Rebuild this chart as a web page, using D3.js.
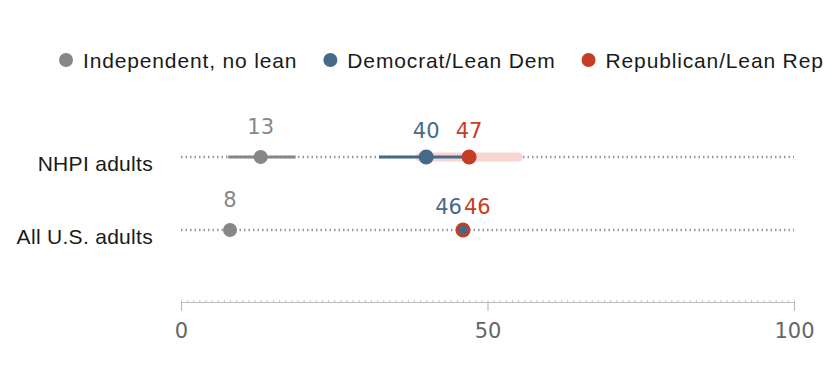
<!DOCTYPE html>
<html>
<head>
<meta charset="utf-8">
<script src="https://cdn.jsdelivr.net/npm/d3@7"></script>
<style>
  html, body { margin: 0; padding: 0; background: #fff; }
  svg { display: block; }
</style>
</head>
<body>
<div id="chart"></div>
<script>
// ---- data ----
const categories = ["NHPI adults", "All U.S. adults"];
const seriesNames = ["Independent, no lean", "Democrat/Lean Dem", "Republican/Lean Rep"];
const indep = [13, 8];
const indepLow = [7.7, null];
const indepHigh = [18.7, null];
const dem = [40, 46];
const demLow = [32.3, null];
const demHigh = [47.7, null];
const rep = [47, 46];
const repLow = [39, null];
const repHigh = [55, null];
const tickValues = [0, 50, 100];

// ---- style ----
const W = 840, H = 390;
const colors = { indep: "#878787", dem: "#456a89", rep: "#c43d27", repBand: "#f7d5d0" };
const numFont = "'DejaVu Sans', sans-serif";
const txtFont = "'Liberation Sans', Arial, sans-serif";

const svg = d3.select("#chart").append("svg").attr("width", W).attr("height", H);

const x = d3.scaleLinear().domain([0, 100]).range([181, 794]);
const y = d3.scalePoint().domain(categories).range([157, 230]);

// ---- legend ----
const legend = svg.append("g");
const legendItems = [
  { name: seriesNames[0], color: colors.indep },
  { name: seriesNames[1], color: colors.dem },
  { name: seriesNames[2], color: colors.rep }
];
let lx = 66;
legendItems.forEach(it => {
  legend.append("circle").attr("cx", lx).attr("cy", 60).attr("r", 7).attr("fill", it.color);
  const t = legend.append("text").attr("x", lx + 17).attr("y", 68)
    .attr("font-family", txtFont).attr("font-size", 21).attr("letter-spacing", 0.85)
    .attr("fill", "#1a1a1a").text(it.name);
  const w = t.node().getComputedTextLength();
  lx = lx + 17 + w + 33;
});

// ---- gridlines ----
svg.append("g").selectAll("line").data(categories).join("line")
  .attr("x1", x(0)).attr("x2", x(100))
  .attr("y1", d => y(d)).attr("y2", d => y(d))
  .attr("stroke", "#999").attr("stroke-width", 2.5).attr("stroke-dasharray", "1.5,3");

// ---- row labels ----
svg.append("g").selectAll("text").data(categories).join("text")
  .attr("x", 153).attr("y", d => y(d) + 14)
  .attr("text-anchor", "end")
  .attr("font-family", txtFont).attr("font-size", 21).attr("letter-spacing", 0.3)
  .attr("fill", "#1a1a1a").text(d => d);

// ---- interval lines ----
const g = svg.append("g");
categories.forEach((c, i) => {
  if (repLow[i] != null) {
    g.append("line").attr("x1", x(repLow[i])).attr("x2", x(repHigh[i]))
      .attr("y1", y(c)).attr("y2", y(c))
      .attr("stroke", colors.repBand).attr("stroke-width", 9).attr("stroke-linecap", "round");
  }
  if (demLow[i] != null) {
    g.append("line").attr("x1", x(demLow[i])).attr("x2", x(demHigh[i]))
      .attr("y1", y(c)).attr("y2", y(c))
      .attr("stroke", colors.dem).attr("stroke-width", 3);
  }
  if (indepLow[i] != null) {
    g.append("line").attr("x1", x(indepLow[i])).attr("x2", x(indepHigh[i]))
      .attr("y1", y(c)).attr("y2", y(c))
      .attr("stroke", colors.indep).attr("stroke-width", 3);
  }
});

// ---- dots ----
categories.forEach((c, i) => {
  const same = Math.abs(dem[i] - rep[i]) < 1;
  g.append("circle").attr("cx", x(indep[i])).attr("cy", y(c)).attr("r", 7).attr("fill", colors.indep);
  if (same) {
    g.append("circle").attr("cx", x(rep[i])).attr("cy", y(c)).attr("r", 7.5).attr("fill", colors.rep);
    g.append("circle").attr("cx", x(dem[i])).attr("cy", y(c)).attr("r", 4.5).attr("fill", colors.dem);
  } else {
    g.append("circle").attr("cx", x(dem[i])).attr("cy", y(c)).attr("r", 7.5).attr("fill", colors.dem);
    g.append("circle").attr("cx", x(rep[i])).attr("cy", y(c)).attr("r", 7.5).attr("fill", colors.rep);
  }
});

// ---- value labels ----
const lab = svg.append("g").attr("font-family", numFont).attr("font-size", 21);
categories.forEach((c, i) => {
  const yy = y(c);
  lab.append("text").attr("x", x(indep[i])).attr("y", yy - 23).attr("text-anchor", "middle")
    .attr("fill", colors.indep).text(indep[i]);
  const close = Math.abs(dem[i] - rep[i]) < 3;
  if (close) {
    lab.append("text").attr("x", x(dem[i]) - 1).attr("y", yy - 16).attr("text-anchor", "end")
      .attr("fill", colors.dem).text(dem[i]);
    lab.append("text").attr("x", x(rep[i]) + 1).attr("y", yy - 16).attr("text-anchor", "start")
      .attr("fill", colors.rep).text(rep[i]);
  } else {
    lab.append("text").attr("x", x(dem[i])).attr("y", yy - 19).attr("text-anchor", "middle")
      .attr("fill", colors.dem).text(dem[i]);
    lab.append("text").attr("x", x(rep[i])).attr("y", yy - 19).attr("text-anchor", "middle")
      .attr("fill", colors.rep).text(rep[i]);
  }
});

// ---- axis ----
const axisY = 302;
const ax = svg.append("g").attr("transform", `translate(0,${axisY})`);
// minor ticks
ax.append("g").call(d3.axisTop(x).tickValues(d3.range(0, 101, 1)).tickSize(2).tickFormat(""))
  .call(s => s.select(".domain").remove())
  .selectAll("line").attr("stroke", "#c4c4c4");
// major axis
const major = ax.append("g").call(d3.axisBottom(x).tickValues(tickValues).tickSize(9).tickSizeOuter(0).tickPadding(12));
major.select(".domain").attr("stroke", "#bdbdbd").attr("stroke-width", 1.2);
major.selectAll(".tick line").attr("stroke", "#bdbdbd").attr("stroke-width", 1.2);
major.selectAll(".tick text").attr("font-family", numFont).attr("font-size", 21).attr("fill", "#666");
</script>
</body>
</html>
